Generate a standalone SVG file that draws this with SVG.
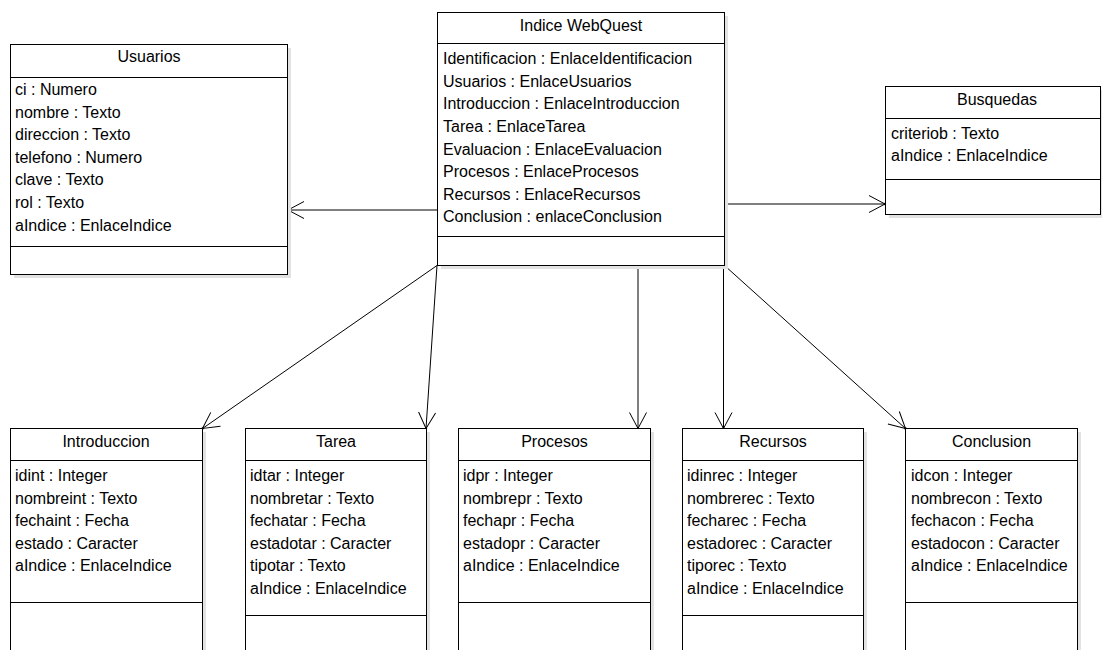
<svg xmlns="http://www.w3.org/2000/svg" width="1102" height="650" viewBox="0 0 1102 650">
  <style>
    .box { fill: #ffffff; stroke: #000000; stroke-width: 1; }
    .shadow { fill: #e2e2e2; stroke: none; }
    .sep { stroke: #000000; stroke-width: 1; }
    .title { font-family: "Liberation Sans", Arial, sans-serif; font-size: 16px; fill: #000000; text-anchor: middle; }
    .attr { font-family: "Liberation Sans", Arial, sans-serif; font-size: 16px; fill: #000000; }
    .link { fill: none; stroke: #000000; stroke-width: 1; marker-end: url(#open); }
  </style>
  <defs>
    <marker id="open" markerUnits="userSpaceOnUse" viewBox="-18 -10 20 20" markerWidth="20" markerHeight="20" refX="0" refY="0" orient="auto">
      <path d="M-16,-8.5 L0,0 L-16,8.5" fill="none" stroke="#000000" stroke-width="1"/>
      <circle cx="0" cy="0" r="1.2" fill="#000000"/>
    </marker>
  </defs>
  <rect width="1102" height="650" fill="#ffffff"/>

  <!-- associations from the index class -->
  <g id="connectors">
    <line class="link" x1="437" y1="210" x2="288" y2="210"/>
    <line class="link" x1="724.5" y1="204" x2="885" y2="204"/>
    <line class="link" x1="437" y1="265.5" x2="202.5" y2="428.5"/>
    <line class="link" x1="437" y1="265.5" x2="426" y2="428.5"/>
    <line class="link" x1="638" y1="265.5" x2="638" y2="428.5"/>
    <line class="link" x1="723.5" y1="265.5" x2="723.5" y2="428.5"/>
    <line class="link" x1="724.5" y1="265.5" x2="905.5" y2="428.5"/>
  </g>

  <g id="indice">
    <rect class="shadow" x="441" y="16" width="287" height="253"/>
    <rect class="box" x="437.5" y="12.5" width="287" height="253"/>
    <line class="sep" x1="437.5" y1="43.5" x2="724.5" y2="43.5"/>
    <line class="sep" x1="437.5" y1="236.5" x2="724.5" y2="236.5"/>
    <text class="title" x="581" y="31">Indice WebQuest</text>
    <text class="attr" x="443" y="64">Identificacion : EnlaceIdentificacion</text>
    <text class="attr" x="443" y="86.5">Usuarios : EnlaceUsuarios</text>
    <text class="attr" x="443" y="109">Introduccion : EnlaceIntroduccion</text>
    <text class="attr" x="443" y="132">Tarea : EnlaceTarea</text>
    <text class="attr" x="443" y="154.5">Evaluacion : EnlaceEvaluacion</text>
    <text class="attr" x="443" y="177">Procesos : EnlaceProcesos</text>
    <text class="attr" x="443" y="199.5">Recursos : EnlaceRecursos</text>
    <text class="attr" x="443" y="222">Conclusion : enlaceConclusion</text>
  </g>

  <g id="usuarios">
    <rect class="shadow" x="14" y="48" width="277" height="230"/>
    <rect class="box" x="10.5" y="44.5" width="277" height="230"/>
    <line class="sep" x1="10.5" y1="77.5" x2="287.5" y2="77.5"/>
    <line class="sep" x1="10.5" y1="246.5" x2="287.5" y2="246.5"/>
    <text class="title" x="149" y="62">Usuarios</text>
    <text class="attr" x="15" y="95">ci : Numero</text>
    <text class="attr" x="15" y="117.6">nombre : Texto</text>
    <text class="attr" x="15" y="140.2">direccion : Texto</text>
    <text class="attr" x="15" y="162.8">telefono : Numero</text>
    <text class="attr" x="15" y="185.4">clave : Texto</text>
    <text class="attr" x="15" y="208">rol : Texto</text>
    <text class="attr" x="15" y="230.6">aIndice : EnlaceIndice</text>
  </g>

  <g id="busquedas">
    <rect class="shadow" x="889" y="90" width="215" height="128"/>
    <rect class="box" x="885.5" y="86.5" width="215" height="128"/>
    <line class="sep" x1="885.5" y1="118.5" x2="1100.5" y2="118.5"/>
    <line class="sep" x1="885.5" y1="179.5" x2="1100.5" y2="179.5"/>
    <text class="title" x="997" y="105">Busquedas</text>
    <text class="attr" x="891" y="138.5">criteriob : Texto</text>
    <text class="attr" x="891" y="161">aIndice : EnlaceIndice</text>
  </g>

  <g id="introduccion">
    <rect class="shadow" x="14" y="432" width="192" height="240"/>
    <rect class="box" x="10.5" y="428.5" width="192" height="240"/>
    <line class="sep" x1="10.5" y1="460.5" x2="202.5" y2="460.5"/>
    <line class="sep" x1="10.5" y1="602.5" x2="202.5" y2="602.5"/>
    <text class="title" x="106" y="447">Introduccion</text>
    <text class="attr" x="15" y="481">idint : Integer</text>
    <text class="attr" x="15" y="503.6">nombreint : Texto</text>
    <text class="attr" x="15" y="526.2">fechaint : Fecha</text>
    <text class="attr" x="15" y="548.8">estado : Caracter</text>
    <text class="attr" x="15" y="571.4">aIndice : EnlaceIndice</text>
  </g>

  <g id="tarea">
    <rect class="shadow" x="249" y="432" width="181" height="240"/>
    <rect class="box" x="245.5" y="428.5" width="181" height="240"/>
    <line class="sep" x1="245.5" y1="460.5" x2="426.5" y2="460.5"/>
    <line class="sep" x1="245.5" y1="615.5" x2="426.5" y2="615.5"/>
    <text class="title" x="336" y="447">Tarea</text>
    <text class="attr" x="250" y="481">idtar : Integer</text>
    <text class="attr" x="250" y="503.6">nombretar : Texto</text>
    <text class="attr" x="250" y="526.2">fechatar : Fecha</text>
    <text class="attr" x="250" y="548.8">estadotar : Caracter</text>
    <text class="attr" x="250" y="571.4">tipotar : Texto</text>
    <text class="attr" x="250" y="594">aIndice : EnlaceIndice</text>
  </g>

  <g id="procesos">
    <rect class="shadow" x="462" y="432" width="192" height="240"/>
    <rect class="box" x="458.5" y="428.5" width="192" height="240"/>
    <line class="sep" x1="458.5" y1="460.5" x2="650.5" y2="460.5"/>
    <line class="sep" x1="458.5" y1="602.5" x2="650.5" y2="602.5"/>
    <text class="title" x="554.5" y="447">Procesos</text>
    <text class="attr" x="463" y="481">idpr : Integer</text>
    <text class="attr" x="463" y="503.6">nombrepr : Texto</text>
    <text class="attr" x="463" y="526.2">fechapr : Fecha</text>
    <text class="attr" x="463" y="548.8">estadopr : Caracter</text>
    <text class="attr" x="463" y="571.4">aIndice : EnlaceIndice</text>
  </g>

  <g id="recursos">
    <rect class="shadow" x="686" y="432" width="181" height="240"/>
    <rect class="box" x="682.5" y="428.5" width="181" height="240"/>
    <line class="sep" x1="682.5" y1="460.5" x2="863.5" y2="460.5"/>
    <line class="sep" x1="682.5" y1="615.5" x2="863.5" y2="615.5"/>
    <text class="title" x="773" y="447">Recursos</text>
    <text class="attr" x="687" y="481">idinrec : Integer</text>
    <text class="attr" x="687" y="503.6">nombrerec : Texto</text>
    <text class="attr" x="687" y="526.2">fecharec : Fecha</text>
    <text class="attr" x="687" y="548.8">estadorec : Caracter</text>
    <text class="attr" x="687" y="571.4">tiporec : Texto</text>
    <text class="attr" x="687" y="594">aIndice : EnlaceIndice</text>
  </g>

  <g id="conclusion">
    <rect class="shadow" x="909" y="432" width="172" height="240"/>
    <rect class="box" x="905.5" y="428.5" width="172" height="240"/>
    <line class="sep" x1="905.5" y1="460.5" x2="1077.5" y2="460.5"/>
    <line class="sep" x1="905.5" y1="602.5" x2="1077.5" y2="602.5"/>
    <text class="title" x="991.5" y="447">Conclusion</text>
    <text class="attr" x="911" y="481">idcon : Integer</text>
    <text class="attr" x="911" y="503.6">nombrecon : Texto</text>
    <text class="attr" x="911" y="526.2">fechacon : Fecha</text>
    <text class="attr" x="911" y="548.8">estadocon : Caracter</text>
    <text class="attr" x="911" y="571.4">aIndice : EnlaceIndice</text>
  </g>
</svg>
